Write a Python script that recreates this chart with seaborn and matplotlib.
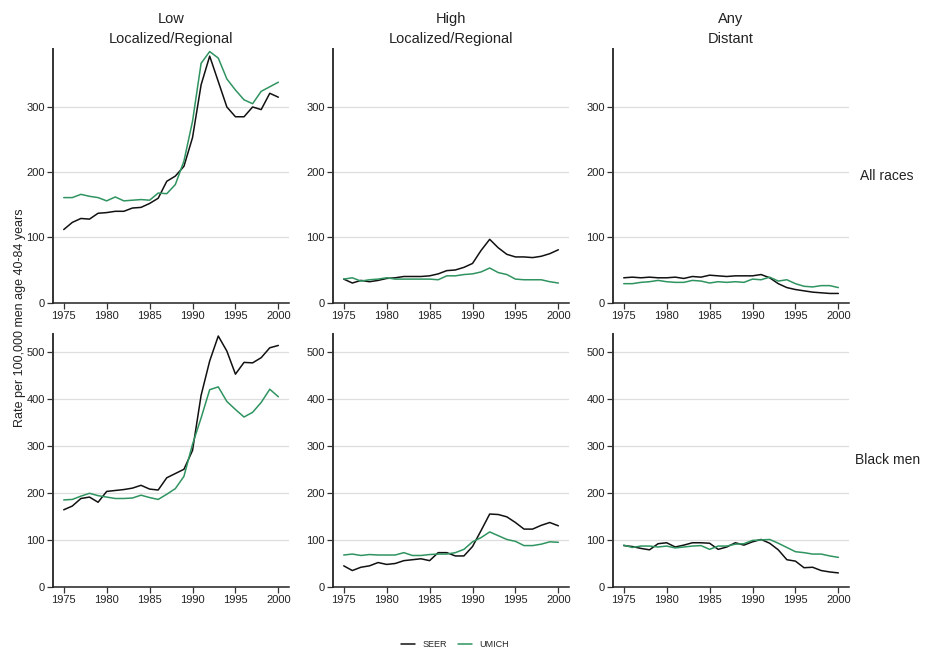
import numpy as np
import pandas as pd
import matplotlib
matplotlib.use("Agg")
import matplotlib.pyplot as plt
from matplotlib.lines import Line2D
import seaborn as sns

years = list(range(1975, 2001))

columns = ["Low\nLocalized/Regional", "High\nLocalized/Regional", "Any\nDistant"]
rows = ["All races", "Black men"]
sources = ["SEER", "UMICH"]

# All races
all_low_seer = [112, 123, 129, 128, 137, 138, 140, 140, 145, 146, 152, 160, 186, 194, 209,
                253, 334, 378, 339, 300, 285, 285, 300, 296, 321, 315]
all_low_umich = [161, 161, 166, 163, 161, 156, 162, 156, 157, 158, 157, 168, 167, 181, 217,
                 278, 367, 385, 375, 343, 326, 311, 305, 324, 331, 338]
all_high_seer = [36, 30, 34, 32, 34, 37, 38, 40, 40, 40, 41, 44, 49, 50, 54,
                 60, 80, 97, 84, 74, 70, 70, 69, 71, 75, 81]
all_high_umich = [36, 38, 33, 35, 36, 38, 36, 36, 36, 36, 36, 35, 41, 41, 43,
                  44, 47, 53, 46, 43, 36, 35, 35, 35, 32, 30]
all_dist_seer = [38, 39, 38, 39, 38, 38, 39, 37, 40, 39, 42, 41, 40, 41, 41,
                 41, 43, 38, 29, 23, 20, 18, 16, 15, 14, 14]
all_dist_umich = [29, 29, 31, 32, 34, 32, 31, 31, 34, 33, 30, 32, 31, 32, 31,
                  36, 35, 39, 33, 35, 29, 25, 24, 26, 26, 23]

# Black men
blk_low_seer = [164, 172, 188, 191, 180, 203, 205, 207, 210, 216, 208, 206, 232, 241, 250,
                290, 407, 480, 533, 501, 452, 477, 476, 487, 508, 513]
blk_low_umich = [185, 186, 193, 199, 194, 191, 188, 188, 189, 195, 190, 186, 197, 209, 235,
                 303, 359, 419, 425, 394, 377, 361, 371, 392, 420, 404]
blk_high_seer = [45, 35, 42, 45, 52, 48, 50, 56, 58, 60, 56, 73, 73, 66, 66,
                 86, 120, 155, 154, 149, 137, 123, 123, 131, 137, 130]
blk_high_umich = [68, 70, 67, 69, 68, 68, 68, 73, 67, 67, 69, 70, 70, 73, 80,
                  96, 105, 117, 109, 101, 97, 88, 88, 91, 96, 95]
blk_dist_seer = [88, 86, 82, 79, 92, 94, 85, 89, 94, 94, 93, 80, 85, 94, 89,
                 96, 101, 93, 79, 58, 55, 41, 42, 35, 32, 30]
blk_dist_umich = [89, 84, 87, 87, 85, 87, 83, 85, 87, 88, 80, 87, 87, 91, 92,
                  99, 100, 101, 93, 84, 75, 73, 70, 70, 66, 63]

series = {
    ("All races", 0): (all_low_seer, all_low_umich),
    ("All races", 1): (all_high_seer, all_high_umich),
    ("All races", 2): (all_dist_seer, all_dist_umich),
    ("Black men", 0): (blk_low_seer, blk_low_umich),
    ("Black men", 1): (blk_high_seer, blk_high_umich),
    ("Black men", 2): (blk_dist_seer, blk_dist_umich),
}

records = []
for (row, ci), (seer, umich) in series.items():
    for src, vals in zip(sources, (seer, umich)):
        for yr, v in zip(years, vals):
            records.append({"row": row, "col": ci, "source": src, "year": yr, "rate": v})
df = pd.DataFrame(records)

palette = {"SEER": "#111111", "UMICH": "#2f9460"}

sns.set_style("ticks")
plt.rcParams["font.family"] = ["Liberation Sans", "DejaVu Sans"]

fig, axes = plt.subplots(2, 3, figsize=(9.3, 6.54), dpi=100)
fig.subplots_adjust(left=0.057, right=0.913, top=0.925, bottom=0.1024,
                    wspace=0.186, hspace=0.122)

for ri, row in enumerate(rows):
    row_max = df.loc[df["row"] == row, "rate"].max()
    for ci in range(3):
        ax = axes[ri, ci]
        sub = df[(df["row"] == row) & (df["col"] == ci)]
        sns.lineplot(data=sub, x="year", y="rate", hue="source", palette=palette,
                     hue_order=sources, linewidth=1.1, legend=False, ax=ax)
        ax.set_xlim(1973.75, 2001.25)
        ax.set_ylim(0, row_max * 1.01)
        ax.set_xticks([1975, 1980, 1985, 1990, 1995, 2000])
        ax.set_yticks(np.arange(0, row_max + 1, 100))
        ax.yaxis.grid(True, color="#dedede", linewidth=0.9)
        ax.xaxis.grid(False)
        ax.set_axisbelow(True)
        ax.set_xlabel("")
        ax.set_ylabel("")
        sns.despine(ax=ax)
        ax.spines["left"].set_linewidth(1.4)
        ax.spines["left"].set_color("#333333")
        ax.spines["bottom"].set_linewidth(1.1)
        ax.spines["bottom"].set_color("#222222")
        ax.tick_params(axis="both", labelsize=8, length=4, width=0.9,
                       color="#333333", labelcolor="#222222", pad=2)
        if ri == 0:
            ax.set_title(columns[ci], fontsize=10.5, linespacing=1.55, pad=4,
                         color="#222222")
    pos = axes[ri, 2].get_position()
    fig.text(0.954, (pos.y0 + pos.y1) / 2, row, ha="center", va="center",
             fontsize=10, color="#222222")

fig.text(0.021, 0.514, "Rate per 100,000 men age 40-84 years", rotation=90,
         ha="center", va="center", fontsize=9, color="#222222")

handles = [Line2D([], [], color=palette[s], linewidth=1.1) for s in sources]
fig.legend(handles, sources, loc="center", bbox_to_anchor=(0.489, 0.014), ncol=2,
           frameon=False, fontsize=6.5, handlelength=1.6, columnspacing=1.2,
           handletextpad=0.8)

fig.savefig("out.png", dpi=100)
